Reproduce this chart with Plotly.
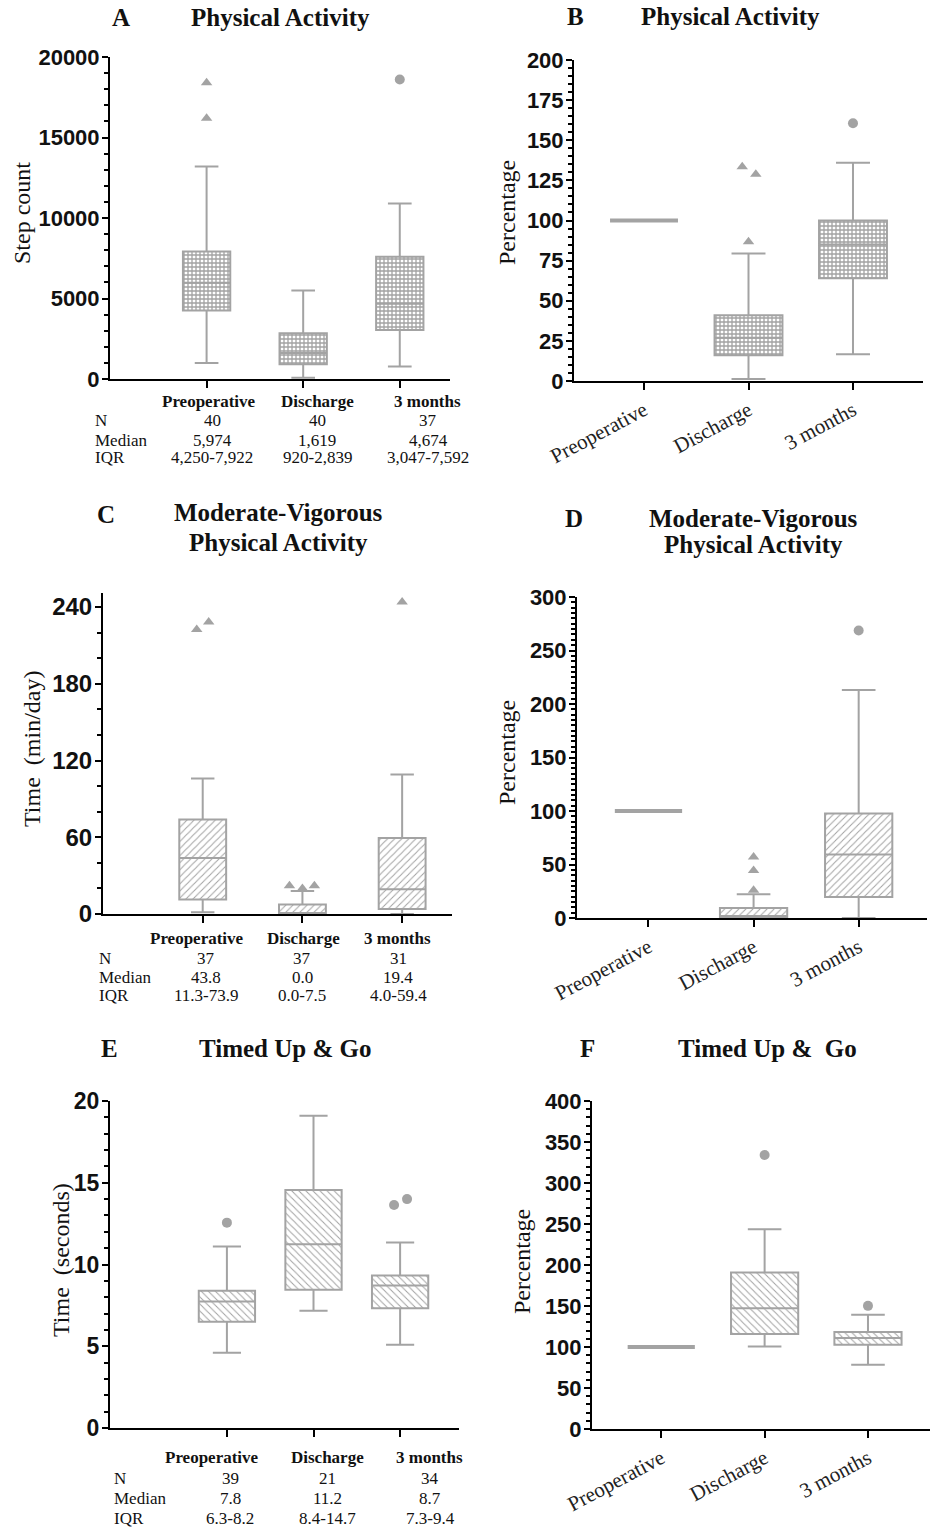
import plotly.graph_objects as go

W, H = 930, 1529
GRAY = "#a3a3a3"
SERIF = "Liberation Serif"
SANS = "Liberation Sans"

categories = ["Preoperative", "Discharge", "3 months"]

# ---------------- data ----------------
# A: step count
A_q1 = [4250, 920, 3047]
A_med = [5974, 1619, 4674]
A_q3 = [7922, 2839, 7592]
A_lo = [1000, 80, 780]
A_hi = [13200, 5500, 10900]
A_out_cat = [0, 0, 2]
A_out_val = [16200, 18400, 18600]
A_out_sym = ["triangle-up", "triangle-up", "circle"]

# B: step count, percentage of preoperative
B_q1 = [100, 16, 64]
B_med = [100, 27, 85]
B_q3 = [100, 41, 100]
B_lo = [100, 1.2, 16.6]
B_hi = [100, 79.5, 136]
B_out_cat = [1, 1, 1, 2]
B_out_val = [133.5, 128.8, 86.8, 160.6]
B_out_sym = ["triangle-up", "triangle-up", "triangle-up", "circle"]

# C: MVPA min/day
C_q1 = [11.3, 0, 4.0]
C_med = [43.8, 0, 19.4]
C_q3 = [73.9, 7.5, 59.4]
C_lo = [1.3, 0, 0]
C_hi = [106, 18, 109]
C_out_cat = [0, 0, 1, 1, 1, 2]
C_out_val = [222.4, 228.4, 22, 20, 22, 244]
C_out_sym = ["triangle-up"] * 6

# D: MVPA percentage of preoperative
D_q1 = [100, 1, 19.7]
D_med = [100, 1, 59.4]
D_q3 = [100, 9.4, 97.7]
D_lo = [100, 0, 0]
D_hi = [100, 22.2, 213.2]
D_out_cat = [1, 1, 1, 2]
D_out_val = [57, 44.5, 26, 268.7]
D_out_sym = ["triangle-up", "triangle-up", "triangle-up", "circle"]

# E: Timed Up & Go seconds
E_q1 = [6.5, 8.45, 7.33]
E_med = [7.73, 11.24, 8.71]
E_q3 = [8.39, 14.56, 9.32]
E_lo = [4.6, 7.17, 5.09]
E_hi = [11.1, 19.1, 11.34]
E_out_cat = [0, 2, 2]
E_out_val = [12.56, 13.64, 14.0]
E_out_sym = ["circle"] * 3

# F: Timed Up & Go percentage of preoperative
F_q1 = [100, 116, 102.7]
F_med = [100, 147.4, 110.9]
F_q3 = [100, 190.8, 118.2]
F_lo = [100, 100.6, 78.3]
F_hi = [100, 243.7, 139.3]
F_out_cat = [1, 2]
F_out_val = [334.2, 150.2]
F_out_sym = ["circle"] * 2

# tables
A_N = ["40", "40", "37"]
A_median_txt = ["5,974", "1,619", "4,674"]
A_iqr_txt = ["4,250-7,922", "920-2,839", "3,047-7,592"]
C_N = ["37", "37", "31"]
C_median_txt = ["43.8", "0.0", "19.4"]
C_iqr_txt = ["11.3-73.9", "0.0-7.5", "4.0-59.4"]
E_N = ["39", "21", "34"]
E_median_txt = ["7.8", "11.2", "8.7"]
E_iqr_txt = ["6.3-8.2", "8.4-14.7", "7.3-9.4"]

# ---------------- layout configuration ----------------
def px(x):
    return x / W


def py(y):
    return 1 - y / H


panels = [
    dict(data=(A_q1, A_med, A_q3, A_lo, A_hi, A_out_cat, A_out_val, A_out_sym),
         box=(110, 450, 57, 379), xr=[-1.0, 2.52], yr=[0, 20000], dtick=5000, minor=1000,
         bw=0.49, pattern="+", psize=4, psol=0.55, ref=False, labels=False,
         jitter=[0, 0, 0], ytf=22),
    dict(data=(B_q1, B_med, B_q3, B_lo, B_hi, B_out_cat, B_out_val, B_out_sym),
         box=(574, 923, 60, 381), xr=[-0.67, 2.67], yr=[0, 200], dtick=25, minor=5,
         bw=0.65, pattern="+", psize=4, psol=0.55, ref=True, labels=True,
         jitter=[-0.06, 0.07, 0, 0], ytf=22),
    dict(data=(C_q1, C_med, C_q3, C_lo, C_hi, C_out_cat, C_out_val, C_out_sym),
         box=(103, 452, 593, 914), xr=[-1.0, 2.5], yr=[0, 251], dtick=60, minor=20,
         bw=0.47, pattern="/", psize=5, psol=0.2, ref=False, labels=False,
         jitter=[-0.06, 0.06, -0.13, 0, 0.12, 0], ytf=24, tickvals=[0, 60, 120, 180, 240]),
    dict(data=(D_q1, D_med, D_q3, D_lo, D_hi, D_out_cat, D_out_val, D_out_sym),
         box=(577, 927, 597, 918), xr=[-0.68, 2.65], yr=[0, 300], dtick=50, minor=5,
         bw=0.64, pattern="/", psize=5, psol=0.2, ref=True, labels=True,
         jitter=[0, 0, 0, 0], ytf=22),
    dict(data=(E_q1, E_med, E_q3, E_lo, E_hi, E_out_cat, E_out_val, E_out_sym),
         box=(110, 459, 1101, 1428), xr=[-1.35, 2.68], yr=[0, 20], dtick=5, minor=1,
         bw=0.65, pattern="\\", psize=5, psol=0.2, ref=False, labels=False,
         jitter=[0, -0.07, 0.08], ytf=23),
    dict(data=(F_q1, F_med, F_q3, F_lo, F_hi, F_out_cat, F_out_val, F_out_sym),
         box=(592, 930, 1101, 1429), xr=[-0.67, 2.6], yr=[0, 400], dtick=50, minor=10,
         bw=0.65, pattern="\\", psize=5, psol=0.2, ref=True, labels=True,
         jitter=[0, 0], ytf=22),
]

fig = go.Figure()
layout = {}

for k, p in enumerate(panels, start=1):
    q1, med, q3, lo, hi, oc, ov, osym = p["data"]
    xa = "x" if k == 1 else f"x{k}"
    ya = "y" if k == 1 else f"y{k}"
    idx = [0, 1, 2] if not p["ref"] else [1, 2]
    # patterned fill
    fig.add_trace(go.Bar(
        x=idx, base=[q1[i] for i in idx], y=[q3[i] - q1[i] for i in idx],
        width=p["bw"], xaxis=xa, yaxis=ya, showlegend=False, hoverinfo="skip",
        marker=dict(color="white", line=dict(width=0),
                    pattern=dict(shape=p["pattern"], fgcolor=GRAY, bgcolor="white",
                                 size=p["psize"], solidity=p["psol"]))))
    # box outlines, medians, whiskers
    fig.add_trace(go.Box(
        x=idx, q1=[q1[i] for i in idx], median=[med[i] for i in idx],
        q3=[q3[i] for i in idx], lowerfence=[lo[i] for i in idx],
        upperfence=[hi[i] for i in idx], width=p["bw"], whiskerwidth=0.5,
        fillcolor="rgba(0,0,0,0)", line=dict(color=GRAY, width=2),
        boxpoints=False, xaxis=xa, yaxis=ya, showlegend=False))
    if p["ref"]:
        fig.add_trace(go.Box(
            x=[0], q1=[q1[0]], median=[med[0]], q3=[q3[0]], lowerfence=[lo[0]],
            upperfence=[hi[0]], width=p["bw"], whiskerwidth=0,
            fillcolor="rgba(0,0,0,0)", line=dict(color=GRAY, width=4),
            boxpoints=False, xaxis=xa, yaxis=ya, showlegend=False))
    # outliers
    fig.add_trace(go.Scatter(
        x=[c + d for c, d in zip(oc, p["jitter"])], y=ov, mode="markers",
        marker=dict(symbol=osym, size=10, color=GRAY), cliponaxis=False,
        xaxis=xa, yaxis=ya, showlegend=False))

    x0, x1, y0, y1 = p["box"]
    xkey = "xaxis" if k == 1 else f"xaxis{k}"
    ykey = "yaxis" if k == 1 else f"yaxis{k}"
    layout[xkey] = dict(
        domain=[px(x0), min(px(x1), 1.0)], anchor=ya, range=p["xr"], showgrid=False,
        zeroline=False, automargin=False,
        showline=True, linecolor="black", linewidth=2, ticks="outside", tickwidth=2,
        ticklen=7, tickcolor="black", tickvals=[0, 1, 2],
        ticktext=categories if p["labels"] else ["", "", ""],
        showticklabels=p["labels"], tickangle=-28,
        tickfont=dict(family=SERIF, size=21, color="#222"))
    ydict = dict(
        domain=[py(y1), py(y0)], anchor=xa, range=p["yr"], showgrid=False, zeroline=False,
        automargin=False, tickformat="d", ticklabelstandoff=-2,
        showline=True, linecolor="black", linewidth=2, ticks="outside", tickwidth=2,
        ticklen=6, tickcolor="black", dtick=p["dtick"], tick0=0,
        tickfont=dict(family=SANS, size=p["ytf"], color="#111", weight="bold"),
        minor=dict(dtick=p["minor"], tick0=0, ticks="outside", ticklen=4, tickwidth=1.5,
                   tickcolor="black"))
    if "tickvals" in p:
        ydict.pop("dtick")
        ydict["tickvals"] = p["tickvals"]
    layout[ykey] = ydict

ann = []


def text(x, y, s, size, bold=False, family=SERIF, xanchor="center", angle=0, color="#111"):
    ann.append(dict(x=px(x), y=py(y), xref="paper", yref="paper", text=s, showarrow=False,
                    xanchor=xanchor, yanchor="middle", textangle=angle,
                    font=dict(family=family, size=size, color=color,
                              weight="bold" if bold else "normal")))


# titles
text(121, 18, "A", 25, True)
text(280, 18, "Physical Activity", 25, True)
text(575, 17, "B", 25, True)
text(730, 17, "Physical Activity", 25, True)
text(106, 514, "C", 25, True)
text(278, 513, "Moderate-Vigorous", 25, True)
text(278, 542, "Physical Activity", 25, True)
text(574, 518, "D", 25, True)
text(753, 518, "Moderate-Vigorous", 25, True)
text(753, 545, "Physical Activity", 25, True)
text(109, 1048, "E", 25, True)
text(285, 1048, "Timed Up &amp; Go", 25, True)
text(587, 1048, "F", 25, True)
text(767, 1048, "Timed Up &amp;\u00a0 Go", 25, True)

# y-axis titles
text(22, 213, "Step count", 24, angle=-90)
text(507, 213, "Percentage", 24, angle=-90)
text(32, 749, "Time\u00a0 (min/day)", 24, angle=-90)
text(507, 753, "Percentage", 24, angle=-90)
text(61, 1260, "Time\u00a0 (seconds)", 24, angle=-90)
text(522, 1262, "Percentage", 24, angle=-90)

# tables under A, C, E
tables = [
    dict(hx=[209, 317, 427], vx=[212, 317, 428], hy=401, rows=[421, 440, 458], lx=93,
         vals=[A_N, A_median_txt, A_iqr_txt]),
    dict(hx=[197, 303, 397], vx=[206, 302, 398], hy=938, rows=[958, 977, 995], lx=97,
         vals=[C_N, C_median_txt, C_iqr_txt]),
    dict(hx=[212, 327, 429], vx=[230, 327, 430], hy=1457, rows=[1478, 1498, 1518], lx=112,
         vals=[E_N, E_median_txt, E_iqr_txt]),
]
row_labels = ["N", "Median", "IQR"]
for t in tables:
    for c, x in zip(categories, t["hx"]):
        text(x, t["hy"], c, 17, True)
    for lab, yy, vals in zip(row_labels, t["rows"], t["vals"]):
        text(t["lx"], yy, lab, 17, xanchor="left")
        for v, x in zip(vals, t["vx"]):
            text(x, yy, v, 17)

fig.update_layout(
    template="none",
    width=W, height=H, margin=dict(l=0, r=0, t=0, b=0, autoexpand=False),
    paper_bgcolor="white", plot_bgcolor="white", showlegend=False,
    boxmode="overlay", barmode="overlay", annotations=ann, **layout)

# remove the browser's default 8px page margin so the figure fills the window exactly
fig.write_html("out.html", config={"displayModeBar": False},
               post_script="document.body.style.margin='0';document.body.style.overflow='hidden';")
